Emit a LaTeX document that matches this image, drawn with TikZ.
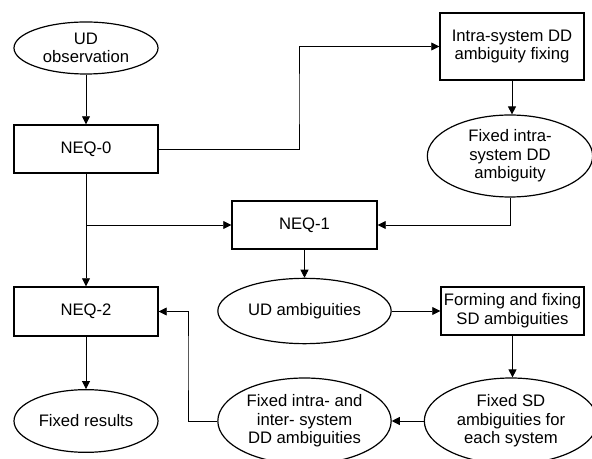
\documentclass[tikz,border=0pt]{standalone}
\usepackage{fontspec}
\setmainfont{Liberation Sans}
\usetikzlibrary{arrows.meta,shapes.geometric}

\begin{document}
\begin{tikzpicture}[x=0.75pt,y=0.75pt,yscale=-1,xscale=1,
  procbox/.style={draw,line width=1.1pt,rectangle,inner sep=0.75pt,align=center,
    font=\fontsize{12.5pt}{14pt}\selectfont},
  resoval/.style={draw,line width=0.9pt,ellipse,inner sep=0pt,align=center,
    font=\fontsize{12.5pt}{14pt}\selectfont},
  flow/.style={draw,line width=0.6pt,-{Triangle[length=6pt,width=6pt]}}]
\useasboundingbox (0,0) rectangle (592,459);

% Shapes
\node [resoval,minimum width=108pt,minimum height=39pt] (obs) at (86,48) {UD\\observation};
\node [procbox,minimum width=108pt,minimum height=36pt] (neq0) at (86,149) {NEQ-0};
\node [procbox,minimum width=108pt,minimum height=50pt] (intra) at (512,46.5) {Intra-system DD\\ambiguity fixing};
\node [resoval,minimum width=124pt,minimum height=61.5pt] (fixintra) at (510,156) {Fixed intra-\\system DD\\ambiguity};
\node [procbox,minimum width=108.75pt,minimum height=36pt] (neq1) at (304.5,225) {NEQ-1};
\node [procbox,minimum width=108pt,minimum height=36.75pt] (neq2) at (86,311.5) {NEQ-2};
\node [resoval,minimum width=130pt,minimum height=49pt] (udamb) at (304.5,311) {UD ambiguities};
\node [procbox,minimum width=107.25pt,minimum height=36pt] (forming) at (512.5,311) {Forming and fixing\\SD ambiguities};
\node [resoval,minimum width=108pt,minimum height=47pt] (fixres) at (86,421) {Fixed results};
\node [resoval,minimum width=130pt,minimum height=64.5pt] (fixall) at (304.5,421) {Fixed intra- and\\inter- system\\DD ambiguities};
\node [resoval,minimum width=130pt,minimum height=64.5pt] (fixsd) at (511,421) {Fixed SD\\ambiguities for\\each system};

% Bends
\coordinate (bendA) at (299,100);
\coordinate (bendB) at (188,360);
\coordinate (branch) at (neq0.south |- neq1.west);

%Straight Lines
\draw [flow] (obs.south) -- (neq0.north);
\draw [flow] (neq0.east) -| (bendA) |- (intra.west);
\draw [flow] (intra.south) -- (intra.south |- fixintra.north);
\draw [flow] (fixintra.south) |- (neq1.east);
\draw [flow] (neq0.south) -- (neq2.north);
\draw [flow] (branch) -- (neq1.west);
\draw [flow] (neq1.south) -- (udamb.north);
\draw [flow] (udamb.east) -- (forming.west);
\draw [flow] (forming.south) -- (forming.south |- fixsd.north);
\draw [flow] (fixsd.west) -- (fixall.east);
\draw [flow] (fixall.west) -| (bendB) |- (neq2.east);
\draw [flow] (neq2.south) -- (fixres.north);

\end{tikzpicture}
\end{document}
